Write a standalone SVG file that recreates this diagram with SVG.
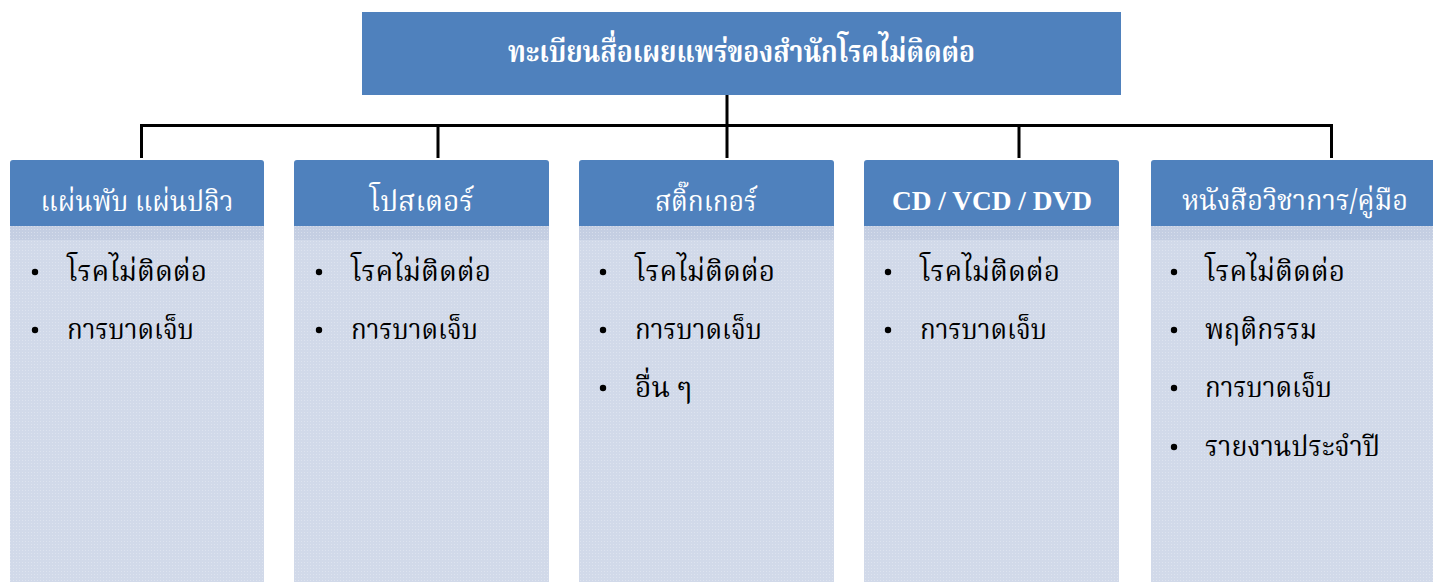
<svg xmlns="http://www.w3.org/2000/svg" width="1433" height="582" viewBox="0 0 1433 582">
<style>
.hdr{fill:#4F81BD}
.panel{fill:url(#dots)}
.band{fill:url(#dots2)}
.title{font-family:"Noto Serif Thai","Noto Sans Thai","Liberation Serif",serif;font-size:30px;font-weight:bold;fill:#fff;text-anchor:middle}
.htxt{font-family:"Noto Serif Thai","Noto Sans Thai","Liberation Serif",serif;font-size:29px;fill:#fff;text-anchor:middle}
.htxtb{font-family:"Liberation Serif",serif;font-size:27px;font-weight:bold;fill:#fff;text-anchor:middle}
.item{font-family:"Noto Serif Thai","Noto Sans Thai","Liberation Serif",serif;font-size:28px;fill:#000}
.conn{stroke:#000;stroke-width:3;fill:none}
</style>
<defs>
<pattern id="dots" width="3" height="3" patternUnits="userSpaceOnUse">
<rect width="3" height="3" fill="#D1D9E9"/>
<rect x="1" y="1" width="1" height="1" fill="#DDE3EF"/>
</pattern>
<pattern id="dots2" width="3" height="3" patternUnits="userSpaceOnUse">
<rect width="3" height="3" fill="#C4CEE2"/>
<rect x="1" y="1" width="1" height="1" fill="#D6DDEB"/>
</pattern>
<circle id="bul" r="3.2" fill="#000"/>
</defs>
<rect width="1433" height="582" fill="#fff"/>
<g id="connectors">
<path class="conn" d="M727 95 V158 M140 125.5 H1333 M141.5 124 V158 M438 124 V158 M1019 124 V158 M1331.5 124 V158"/>
</g>
<g id="root">
<rect class="hdr" x="362" y="12" width="759" height="83"/>
<text class="title" x="741.5" y="62" textLength="467" lengthAdjust="spacingAndGlyphs">ทะเบียนสื่อเผยแพร่ของสำนักโรคไม่ติดต่อ</text>
</g>
<g id="node1">
<rect class="panel" x="10" y="226" width="254" height="356"/>
<rect class="band" x="10" y="226" width="254" height="14"/>
<path class="hdr" d="M10 226 V163 Q10 160 13 160 H261 Q264 160 264 163 V226 Z"/>
<text class="htxt" x="137" y="211" textLength="193" lengthAdjust="spacingAndGlyphs">แผ่นพับ แผ่นปลิว</text>
<use href="#bul" x="35" y="272"/><text class="item" x="67" y="281" textLength="140" lengthAdjust="spacingAndGlyphs">โรคไม่ติดต่อ</text>
<use href="#bul" x="35" y="330"/><text class="item" x="67" y="339" textLength="127" lengthAdjust="spacingAndGlyphs">การบาดเจ็บ</text>
</g>
<g id="node2">
<rect class="panel" x="294" y="226" width="255" height="356"/>
<rect class="band" x="294" y="226" width="255" height="14"/>
<path class="hdr" d="M294 226 V163 Q294 160 297 160 H546 Q549 160 549 163 V226 Z"/>
<text class="htxt" x="421.5" y="211" textLength="104" lengthAdjust="spacingAndGlyphs">โปสเตอร์</text>
<use href="#bul" x="319" y="272"/><text class="item" x="351" y="281" textLength="140" lengthAdjust="spacingAndGlyphs">โรคไม่ติดต่อ</text>
<use href="#bul" x="319" y="330"/><text class="item" x="351" y="339" textLength="127" lengthAdjust="spacingAndGlyphs">การบาดเจ็บ</text>
</g>
<g id="node3">
<rect class="panel" x="579" y="226" width="255" height="356"/>
<rect class="band" x="579" y="226" width="255" height="14"/>
<path class="hdr" d="M579 226 V163 Q579 160 582 160 H831 Q834 160 834 163 V226 Z"/>
<text class="htxt" x="706" y="211" textLength="102" lengthAdjust="spacingAndGlyphs">สติ๊กเกอร์</text>
<use href="#bul" x="603" y="272"/><text class="item" x="635" y="281" textLength="140" lengthAdjust="spacingAndGlyphs">โรคไม่ติดต่อ</text>
<use href="#bul" x="603" y="330"/><text class="item" x="635" y="339" textLength="127" lengthAdjust="spacingAndGlyphs">การบาดเจ็บ</text>
<use href="#bul" x="603" y="388"/><text class="item" x="635" y="397" textLength="57" lengthAdjust="spacingAndGlyphs">อื่น ๆ</text>
</g>
<g id="node4">
<rect class="panel" x="864" y="226" width="255" height="356"/>
<rect class="band" x="864" y="226" width="255" height="14"/>
<path class="hdr" d="M864 226 V163 Q864 160 867 160 H1116 Q1119 160 1119 163 V226 Z"/>
<text class="htxtb" x="992" y="210" textLength="200" lengthAdjust="spacingAndGlyphs">CD / VCD / DVD</text>
<use href="#bul" x="888" y="272"/><text class="item" x="920" y="281" textLength="140" lengthAdjust="spacingAndGlyphs">โรคไม่ติดต่อ</text>
<use href="#bul" x="888" y="330"/><text class="item" x="920" y="339" textLength="127" lengthAdjust="spacingAndGlyphs">การบาดเจ็บ</text>
</g>
<g id="node5">
<rect class="panel" x="1151" y="226" width="290" height="356"/>
<rect class="band" x="1151" y="226" width="290" height="14"/>
<path class="hdr" d="M1151 226 V163 Q1151 160 1154 160 H1440 V226 Z"/>
<text class="htxt" x="1295" y="210" textLength="226" lengthAdjust="spacingAndGlyphs">หนังสือวิชาการ/คู่มือ</text>
<use href="#bul" x="1174" y="272"/><text class="item" x="1205" y="281" textLength="140" lengthAdjust="spacingAndGlyphs">โรคไม่ติดต่อ</text>
<use href="#bul" x="1174" y="330"/><text class="item" x="1205" y="339" textLength="112" lengthAdjust="spacingAndGlyphs">พฤติกรรม</text>
<use href="#bul" x="1174" y="388"/><text class="item" x="1205" y="397" textLength="127" lengthAdjust="spacingAndGlyphs">การบาดเจ็บ</text>
<use href="#bul" x="1174" y="447"/><text class="item" x="1205" y="456" textLength="175" lengthAdjust="spacingAndGlyphs">รายงานประจำปี</text>
</g>
</svg>
